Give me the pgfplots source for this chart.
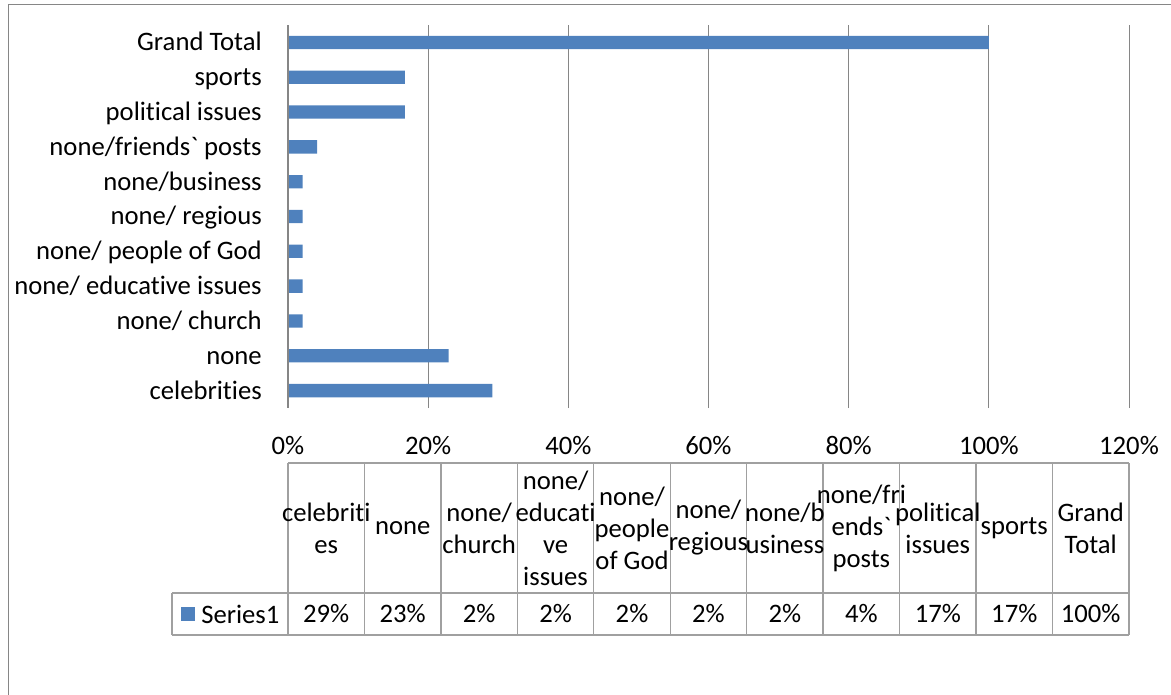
\documentclass[border=0pt]{standalone}
\usepackage{fontspec}
\setmainfont{Carlito}[Ligatures={NoCommon}]
\usepackage{pgfplots}
\usepackage{pgfplotstable}
\pgfplotsset{compat=1.18}
\definecolor{barblue}{HTML}{4F81BD}
\definecolor{gridgray}{HTML}{868686}
\definecolor{tablegray}{HTML}{A0A0A0}

% share of answers, in percent (n = 48)
\pgfplotstableread{
idx value
0 29.17
1 22.92
2 2.08
3 2.08
4 2.08
5 2.08
6 2.08
7 4.17
8 16.67
9 16.67
10 100
}\shares

\begin{document}
\fontsize{20pt}{24pt}\selectfont
\begin{tikzpicture}
\path[use as bounding box] (0,0) rectangle (878.25pt,-520.5pt);
\begin{axis}[
  at={(216pt,-306pt)}, anchor=south west,
  scale only axis, width=630.75pt, height=287.25pt,
  xbar, bar width=10pt,
  xmin=0, xmax=120, ymin=-0.5, ymax=10.5,
  xtick={0,20,...,120},
  xticklabels={0\%,20\%,40\%,60\%,80\%,100\%,120\%},
  ytick={0,...,10},
  yticklabels={celebrities,none,none/ church,none/ educative issues,none/ people of God,none/ regious,none/business,none/friends\textasciigrave{} posts,political issues,sports,Grand Total},
  xmajorgrids, grid style={gridgray, line width=0.75pt},
  axis line style={draw=none}, major tick length=0pt,
  xticklabel style={anchor=base, yshift=-34.5pt},
  yticklabel style={anchor=base east, inner sep=0pt, xshift=-19.5pt, yshift=-6.3pt},
]
\addplot[fill=barblue, draw=none] table[x=value, y=idx] {\shares};
\end{axis}
\begin{scope}[x=0.75pt, y=-0.75pt]
  % outer chart frame
  \draw[gridgray, line width=0.75pt] (8,700) -- (8,4) -- (1180,4);
  % value axis line
  \draw[gridgray, line width=1.5pt] (288,25) -- (288,408);
  % data table
  \foreach \i in {0,...,11}
    \draw[tablegray, line width=1pt] ({288+\i*76.45},463) -- ({288+\i*76.45},635);
  \draw[tablegray, line width=1pt] (288,463) -- (1129,463);
  \draw[tablegray, line width=1pt] (172,593) -- (1129,593);
  \draw[tablegray, line width=1pt] (172,635) -- (1129,635);
  \draw[tablegray, line width=1pt] (172,593) -- (172,635);
  \foreach \txt [count=\i from 0] in {{celebriti\\es},{none},{none/\\church},{none/\\educati\\ve\\issues},{none/\\people\\of God},{none/\\regious},{none/b\\usiness},{none/fri\\ends\textasciigrave\\posts},{political\\issues},{sports},{Grand\\Total}}
    \node[align=center, inner sep=0pt] at ({288+(\i+0.5)*76.45},528) {\txt};
  \foreach \v [count=\i from 0] in {29\%,23\%,2\%,2\%,2\%,2\%,2\%,4\%,17\%,17\%,100\%}
    \node[inner sep=0pt] at ({288+(\i+0.5)*76.45},614) {\v};
  \fill[barblue] (181,607) rectangle (195,621);
  \node[anchor=west, inner sep=0pt] at (201,614) {Series1};
\end{scope}
\end{tikzpicture}
\end{document}
